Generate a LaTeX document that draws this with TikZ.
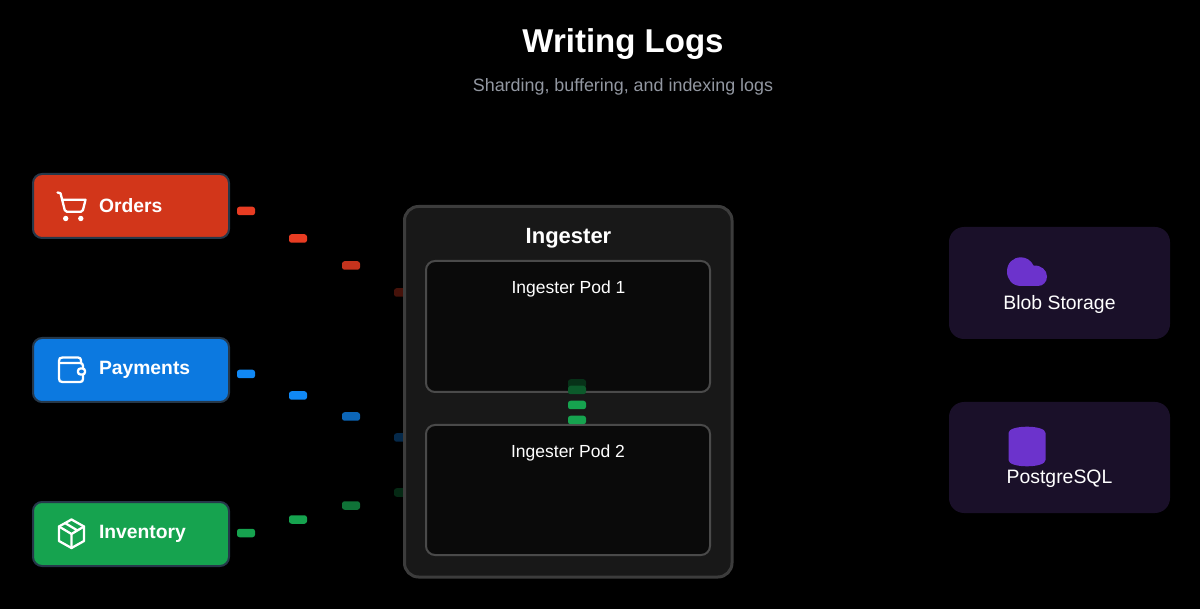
\documentclass[tikz,border=0pt]{standalone}
\usepackage{fontspec}
\setmainfont{Liberation Sans}
\definecolor{ordc}{HTML}{D2361A}
\definecolor{payc}{HTML}{0C79E0}
\definecolor{invc}{HTML}{16A34F}
\definecolor{edgec}{HTML}{26384A}
\definecolor{ordp}{HTML}{E83C22}
\definecolor{payp}{HTML}{1088F5}
\definecolor{invp}{HTML}{16A34F}
\definecolor{storec}{HTML}{1A1029}
\definecolor{iconc}{HTML}{6C33CC}
\definecolor{podfill}{HTML}{0A0A0A}
\definecolor{podline}{HTML}{4A4A4A}
\definecolor{ingfill}{HTML}{181818}
\definecolor{ingline}{HTML}{3C3C3C}
\definecolor{subc}{HTML}{9297A1}
\tikzset{
  every node/.style={inner sep=0pt,outer sep=0pt,text=white},
  svc/.style={rounded corners=9pt,draw=edgec,line width=2pt},
  lbl/.style={font=\fontsize{19.3}{24}\selectfont\bfseries,anchor=west},
  pod/.style={rounded corners=9pt,fill=podfill,draw=podline,line width=2pt},
  store/.style={rounded corners=15pt,fill=storec},
  podlbl/.style={font=\fontsize{17.5}{21}\selectfont},
  storelbl/.style={font=\fontsize{19.4}{23}\selectfont},
  pkt/.style={draw=none,rounded corners=2.5pt,minimum width=18pt,minimum height=8.5pt,shape=rectangle},
  icon/.style={draw=white,line width=2.3pt,line cap=round,line join=round},
}
\begin{document}
\begin{tikzpicture}[x=1pt,y=-1pt]
\useasboundingbox[fill=black] (0,0) rectangle (1200,609);
% title
\node[font=\fontsize{33}{40}\selectfont\bfseries] (title) at (623,44) {Writing Logs};
\node[font=\fontsize{17.9}{21}\selectfont,text=subc] (subtitle) at (623,86.5) {Sharding, buffering, and indexing logs};
% services
\draw[svc,fill=ordc] (33,174) rectangle (229,238);
\draw[svc,fill=payc] (33,338) rectangle (229,402);
\draw[svc,fill=invc] (33,502) rectangle (229,566);
\node[lbl] (orders) at (99,205.5) {Orders};
\node[lbl] (payments) at (99,369.5) {Payments};
\node[lbl] (inventory) at (99,533.5) {Inventory};
% cart icon
\draw[icon] (57.5,192.5) -- (60.5,193.2) -- (64.7,210) .. controls (65,211.2) and (65.5,211.7) .. (66.7,211.7) -- (81,211.7) .. controls (82.2,211.7) and (82.8,211.2) .. (83,210) -- (85.5,199.7) -- (62,199.7);
\fill[white] (65.7,218.5) circle (2.7pt) (80.8,218.5) circle (2.7pt);
% wallet icon
\draw[icon] (81,363) -- (81,360.5) .. controls (81,358.5) and (80,357.5) .. (78,357.5) -- (62.5,357.5) .. controls (60,357.5) and (59,358.5) .. (59,361) -- (59,378.5) .. controls (59,381) and (60,382) .. (62.5,382) -- (80,382) .. controls (82,382) and (83,381) .. (83,379) -- (83,375);
\draw[icon] (59,363) -- (80,363) .. controls (82,363) and (83,364) .. (83,366) -- (83,368.5);
\draw[icon,rounded corners=2.5pt] (85,368.5) -- (78,368.5) -- (78,374.5) -- (85,374.5) -- cycle;
% box icon
\draw[icon] (71.5,519.5) -- (84,526.5) -- (84,541) -- (71.5,548) -- (59,541) -- (59,526.5) -- cycle;
\draw[icon] (59,526.5) -- (71.5,534) -- (84,526.5) (71.5,534) -- (71.5,548) (65,523) -- (77.5,530.5);
% packets entering, behind the ingester edge
\node[pkt,fill=ordp] (o1) at (246,211) {};
\node[pkt,fill=ordp] (o2) at (298,238.5) {};
\node[pkt,fill=ordp!85!black] (o3) at (351,265.5) {};
\node[pkt,fill=ordp!30!black] (o4) at (403,292.5) {};
\node[pkt,fill=payp] (p1) at (246,374) {};
\node[pkt,fill=payp] (p2) at (298,395.5) {};
\node[pkt,fill=payp!75!black] (p3) at (351,416.5) {};
\node[pkt,fill=payp!30!black] (p4) at (403,437.5) {};
\node[pkt,fill=invp] (i1) at (246,533) {};
\node[pkt,fill=invp] (i2) at (298,519.5) {};
\node[pkt,fill=invp!70!black] (i3) at (351,505.5) {};
\node[pkt,fill=invp!25!black] (i4) at (403,492.5) {};
% ingester
\draw[rounded corners=14pt,fill=ingfill,draw=ingline,line width=3pt] (404.5,206.5) rectangle (732,577);
\node[font=\fontsize{22}{26}\selectfont\bfseries] (ingester) at (568.5,238.5) {Ingester};
% pods
\draw[pod] (426,261) rectangle (710,392);
\draw[pod] (426,425) rectangle (710,555);
\node[podlbl] (pod1) at (568.5,289) {Ingester Pod 1};
\node[podlbl] (pod2) at (568,453) {Ingester Pod 2};
% packets between pods
\node[pkt,fill=invp!30!black] (g1) at (577,383.5) {};
\node[pkt,fill=invp!55!black] (g2) at (577,390) {};
\node[pkt,fill=invp] (g3) at (577,405) {};
\node[pkt,fill=invp] (g4) at (577,420) {};
% storage
\fill[store] (949,227) rectangle (1170,339);
\fill[store] (949,402) rectangle (1170,513);
\fill[iconc] (1021,286) .. controls (1012,286) and (1007,279) .. (1007,271.5) .. controls (1007,263) and (1013,257.3) .. (1021,257.3) .. controls (1026.5,257.3) and (1031,260.5) .. (1033.5,265.5) .. controls (1041,265) and (1047,270) .. (1047,276.5) .. controls (1047,282) and (1043,286) .. (1038,286) -- cycle;
\fill[iconc] (1008.5,433) .. controls (1008.5,429) and (1017,426.7) .. (1027,426.7) .. controls (1037,426.7) and (1045.5,429) .. (1045.5,433) -- (1045.5,460) .. controls (1045.5,464) and (1037,466.3) .. (1027,466.3) .. controls (1017,466.3) and (1008.5,464) .. (1008.5,460) -- cycle;
\node[storelbl] (blob) at (1059.5,304.5) {Blob Storage};
\node[storelbl] (pg) at (1059.5,479) {PostgreSQL};
\end{tikzpicture}
\end{document}
